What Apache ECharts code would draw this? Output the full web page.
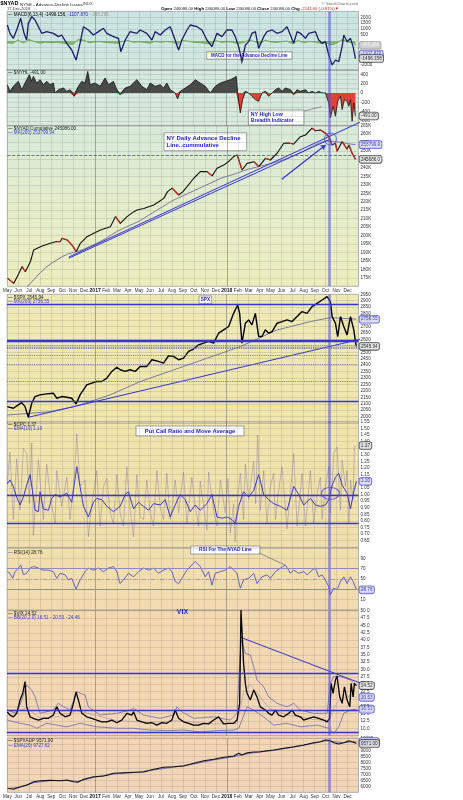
<!DOCTYPE html>
<html>
<head>
<meta charset="utf-8">
<script src="https://cdn.jsdelivr.net/npm/echarts@6/dist/echarts.min.js"></script>
<style>
  html, body { margin: 0; padding: 0; background: #fff; }
  #main { width: 463px; height: 800px; }
</style>
</head>
<body>
<div id="main"></div>
<script>
// x value = months since 1 May 2016
const monthLabels = ['May','Jun','Jul','Aug','Sep','Oct','Nov','Dec','2017','Feb','Mar','Apr','May','Jun','Jul','Aug','Sep','Oct','Nov','Dec','2018','Feb','Mar','Apr','May','Jun','Jul','Aug','Sep','Oct','Nov','Dec',''];
const yearTicks = [8, 20];
const markerMonth = 29.3;

// MACD(6,13,4) of $NYAD
const macd = [[0.03,1347],[0.27,641],[0.58,218],[0.88,924],[1.25,1912],[1.55,641],[1.79,76],[1.94,1489],[2.25,2054],[2.55,1771],[2.86,1206],[3.16,641],[3.62,783],[4.22,641],[4.68,359],[4.98,500],[5.44,-206],[5.89,-771],[6.29,-1618],[6.65,-206],[6.96,1206],[7.41,924],[7.87,500],[8.33,783],[8.78,1065],[9.09,641],[9.69,359],[10.15,218],[10.36,-912],[10.76,76],[11.21,783],[11.82,641],[12.12,924],[12.73,641],[13.19,76],[13.49,783],[13.95,500],[14.40,924],[14.86,1206],[15.31,76],[15.62,-771],[15.92,76],[16.38,924],[16.68,1347],[17.29,1206],[17.75,924],[18.20,76],[18.66,-489],[19.11,641],[19.57,359],[20.02,924],[20.48,924],[20.78,359],[21.09,-489],[21.39,-1760],[21.70,-347],[22.00,-65],[22.30,641],[22.61,783],[22.91,-630],[23.37,359],[23.67,783],[24.13,924],[24.58,641],[25.04,783],[25.49,1206],[25.80,500],[26.10,-206],[26.41,783],[26.71,641],[27.17,218],[27.47,641],[28.08,783],[28.38,76],[28.68,-206],[28.99,-65],[29.29,-1195],[29.60,-2042],[29.90,-1618],[30.20,-1760],[30.51,-489],[30.66,500],[30.96,-65],[31.27,218],[31.51,-489],[31.72,-1496]];
const macdHist = [[0,-150],[0.5,-220],[1,80],[1.5,-180],[2,120],[2.5,-60],[3,-200],[3.5,-100],[4,-150],[4.5,-120],[5,-180],[5.5,-250],[6,-300],[6.5,150],[7,60],[7.5,-150],[8,-80],[8.5,-60],[9,-130],[9.5,-160],[10,-200],[10.5,-50],[11,40],[11.5,-120],[12,-80],[12.5,-120],[13,-200],[13.5,-40],[14,-110],[14.5,-60],[15,-100],[15.5,-280],[16,40],[16.5,-20],[17,-120],[17.5,-150],[18,-200],[18.5,-260],[19,30],[19.5,-120],[20,-80],[20.5,-100],[21,-220],[21.5,-150],[22,80],[22.5,-40],[23,-250],[23.5,60],[24,-80],[24.5,-140],[25,-60],[25.5,-20],[26,-250],[26.5,40],[27,-140],[27.5,-60],[28,-90],[28.5,-200],[29,-160],[29.5,-350],[30,-200],[30.5,120],[31,-100],[31.5,-150],[31.72,-366]];
const macdTags = [-366.286, -1107.870, -1496.156];

// $NYHL
const nyhl = [[0.03,177],[0.27,35],[0.58,142],[1.03,249],[1.34,71],[1.64,213],[2.04,390],[2.25,249],[2.40,355],[2.70,213],[3.01,284],[3.31,177],[3.62,249],[3.92,177],[4.22,213],[4.38,0],[4.68,71],[5.14,107],[5.44,35],[5.74,71],[6.11,-71],[6.50,142],[6.81,249],[7.11,213],[7.35,462],[7.57,177],[8.02,213],[8.48,142],[8.93,320],[9.24,177],[9.69,249],[10.0,71],[10.30,-36],[10.76,107],[11.21,142],[11.82,284],[12.28,142],[12.73,71],[13.04,213],[13.49,142],[13.95,177],[14.25,107],[14.55,213],[14.86,71],[15.31,0],[15.53,-128],[15.77,35],[16.23,107],[16.68,177],[17.14,284],[17.59,213],[18.05,142],[18.51,0],[18.66,-36],[18.96,142],[19.42,213],[19.87,249],[20.33,284],[20.63,320],[20.87,355],[21.00,0],[21.24,-426],[21.45,-142],[21.70,35],[22.00,0],[22.30,-71],[22.61,-142],[22.91,-178],[23.21,0],[23.52,35],[23.82,-71],[24.13,0],[24.43,71],[24.73,107],[25.04,35],[25.34,107],[25.80,71],[26.10,-36],[26.41,71],[26.71,35],[27.17,71],[27.47,0],[27.77,35],[28.08,0],[28.38,35],[28.68,0],[28.99,0],[29.29,-213],[29.44,-533],[29.69,-284],[29.90,-497],[30.11,-178],[30.36,-71],[30.51,-355],[30.72,-142],[30.96,-178],[31.12,-284],[31.27,-142],[31.42,-604],[31.57,-213],[31.72,-491]];
const nyhlTags = [-491];

// $NYAD cumulative (thousands) and MA(200)
const adCum = [[0.03,174.7],[0.58,171.7],[1.0,177],[1.34,181.6],[1.64,178.6],[2.10,184.5],[2.40,191.5],[3.01,193.4],[3.5,194.5],[3.92,195.4],[4.5,196.5],[4.83,196.4],[4.98,198.4],[5.44,197.4],[5.89,194.4],[6.29,190.5],[6.65,195.4],[7.26,199.3],[7.87,201.3],[8.48,203.3],[9.39,205.2],[9.85,211.2],[10.30,207.2],[10.91,211.2],[11.5,214],[11.82,215.1],[12.43,216],[13.34,218.1],[13.8,220],[14.25,222],[14.6,226],[15.01,228],[15.62,224],[16.0,226],[16.38,229],[16.99,233.9],[17.59,237.8],[18.20,237.8],[18.66,235.3],[19.11,239.8],[19.72,241.7],[20.2,244],[20.63,246.7],[20.94,247.7],[21.39,238.8],[21.85,242.7],[22.46,243.7],[22.91,240.8],[23.52,245.7],[23.97,244.7],[24.58,248.7],[25.19,254.6],[25.6,254.8],[26.10,254.2],[26.71,258.5],[27.17,259.5],[27.77,263.5],[28.1,262],[28.53,262.5],[28.99,260.5],[29.29,258.5],[29.60,253.6],[29.90,254.6],[30.05,249.9],[30.51,255.6],[30.96,251.1],[31.12,253.6],[31.42,248.7],[31.72,245.1]];
const adMa = [[1.8,170],[2,171],[2.5,174.5],[3,178],[3.5,181],[4,183.5],[4.5,185.5],[5,187.5],[5.5,189],[6,190],[6.5,190.8],[7,192],[7.5,193.5],[8,195],[8.5,196.5],[9,198.5],[9.5,200.5],[10,202.5],[10.5,204],[11,205.5],[11.5,207],[12,208.5],[12.5,210.5],[13,212.5],[13.5,214.5],[14,216.5],[14.5,218.5],[15,220.5],[15.5,222],[16,223.5],[16.5,225],[17,226.5],[17.5,228],[18,229.5],[18.5,231],[19,232.5],[19.5,234],[20,235],[20.5,236],[21,237],[21.5,238.3],[22,239.3],[22.5,240.2],[23,241],[23.5,241.8],[24,242.6],[24.5,243.5],[25,244.5],[25.5,245.7],[26,247],[26.5,248.5],[27,250],[27.5,251.8],[28,253.5],[28.5,255],[29,256],[29.5,256],[30,255.5],[30.5,255],[31,254.4],[31.72,253.8]];
const adTrendA = [[5.6,187.3],[32.18,267.2]];
const adTrendB = [[5.6,186.6],[29.44,257.1]];
const adArrow = [[25.0,233.3],[29.0,253.6]];
const adCircle = [[29.44,257.1]];
const adLevel = 247.7;
const adTags = [253.79994, 245.086];

// $SPX and MA(200)
const spx = [[0.03,2078],[0.58,2065],[1.03,2091],[1.34,2109],[1.64,2078],[1.94,1995],[2.25,2104],[2.55,2156],[3.01,2169],[3.62,2177],[4.22,2182],[4.53,2143],[4.98,2156],[5.44,2151],[5.89,2143],[6.29,2099],[6.65,2169],[7.26,2247],[7.72,2260],[8.17,2273],[8.63,2273],[9.09,2299],[9.54,2351],[10.0,2384],[10.30,2364],[10.76,2351],[11.21,2364],[11.67,2351],[12.12,2390],[12.73,2390],[13.19,2442],[13.79,2429],[14.25,2416],[14.71,2473],[15.16,2468],[15.62,2442],[16.07,2455],[16.53,2507],[16.99,2525],[17.44,2558],[17.90,2571],[18.35,2584],[18.81,2571],[19.26,2648],[19.72,2674],[20.18,2700],[20.63,2802],[21.00,2867],[21.18,2802],[21.39,2571],[21.70,2725],[22.00,2751],[22.30,2713],[22.61,2802],[22.91,2622],[23.21,2622],[23.52,2674],[23.82,2648],[24.13,2661],[24.58,2725],[25.04,2738],[25.49,2751],[25.95,2738],[26.41,2777],[26.86,2816],[27.32,2802],[27.77,2854],[28.23,2880],[28.68,2906],[29.14,2932],[29.44,2893],[29.60,2777],[29.90,2725],[30.11,2622],[30.36,2777],[30.66,2700],[30.96,2635],[31.27,2777],[31.57,2674],[31.72,2584],[31.81,2546]];
const spxMa = [[0.03,2013],[2.10,2026],[3.92,2039],[6.35,2083],[9.39,2169],[12.12,2272],[15.16,2363],[18.20,2453],[21.24,2544],[24.58,2673],[27.62,2738],[29.44,2769],[31.81,2757]];
const spxTrend = [[1.94,1995],[34.46,2647]];
const spxSolidLevels = [2875, 2595, 2583, 2117];
const spxDottedLevels = [2556, 2542, 2530, 2476, 2404, 2274];
const spxTags = [2756.55, 2545.94];

// $CPC and EMA(10)
const cpc = [[0.03,1.08],[0.27,1.32],[0.58,0.81],[0.88,1.27],[1.19,0.88],[1.49,1.35],[1.79,1.31],[2.04,0.93],[2.25,1.39],[2.40,0.69],[2.86,1.26],[3.31,0.81],[3.62,1.23],[3.98,0.96],[4.38,0.78],[4.53,1.18],[4.98,0.91],[5.44,1.13],[5.74,0.81],[6.11,1.11],[6.35,1.46],[6.65,1.06],[7.11,1.11],[7.41,0.68],[7.81,0.98],[8.17,1.18],[8.48,0.76],[8.78,1.06],[9.09,1.12],[9.39,0.86],[9.69,0.78],[10.0,1.15],[10.30,0.86],[10.60,0.76],[10.91,1.21],[11.21,0.88],[11.52,0.68],[11.82,1.15],[12.12,0.83],[12.43,0.81],[12.73,1.11],[13.04,0.86],[13.34,0.76],[13.64,1.18],[13.95,0.91],[14.25,0.81],[14.55,1.16],[14.86,0.81],[15.16,0.98],[15.31,1.11],[15.62,0.86],[16.07,1.17],[16.38,0.78],[16.83,1.13],[17.14,0.91],[17.44,0.76],[17.59,1.10],[17.90,0.91],[18.20,0.73],[18.35,1.17],[18.81,0.88],[19.11,0.76],[19.42,1.11],[19.87,0.86],[20.12,1.12],[20.33,0.71],[20.63,0.93],[20.78,0.64],[21.00,0.98],[21.24,1.16],[21.54,0.81],[21.70,1.23],[22.00,0.96],[22.46,1.25],[22.64,0.93],[22.82,1.45],[23.06,0.88],[23.37,1.18],[23.67,0.78],[23.97,1.06],[24.28,1.16],[24.43,0.81],[24.73,1.03],[25.04,1.21],[25.49,0.74],[25.80,1.01],[26.10,1.31],[26.41,0.76],[26.86,1.16],[27.17,0.76],[27.62,1.18],[27.92,0.78],[28.23,1.01],[28.53,1.13],[28.68,0.81],[28.99,1.06],[29.29,1.21],[29.44,0.86],[29.75,1.31],[30.05,1.36],[30.36,0.88],[30.51,1.26],[30.81,1.06],[30.96,1.18],[31.12,0.78],[31.27,1.11],[31.51,0.96],[31.63,1.36],[31.81,1.37]];
const cpcEma = [[0.03,1.08],[0.27,1.11],[0.58,1.06],[0.88,0.98],[1.19,0.92],[1.49,0.98],[1.79,1.07],[2.10,1.15],[2.40,0.98],[2.55,0.88],[2.86,0.87],[3.01,1.02],[3.31,0.89],[3.77,0.88],[4.07,0.97],[4.38,1.00],[4.83,0.98],[5.44,1.01],[5.89,0.94],[6.35,1.21],[6.65,1.06],[6.96,0.91],[7.41,0.83],[7.87,0.94],[8.17,0.97],[8.63,0.96],[9.09,0.91],[9.69,0.87],[10.30,0.91],[10.76,1.00],[11.06,1.02],[11.52,0.89],[11.97,0.94],[12.43,0.91],[12.88,0.88],[13.34,0.93],[13.95,0.92],[14.40,0.96],[14.86,0.83],[15.31,0.92],[15.77,1.00],[16.23,0.96],[16.68,0.87],[17.14,0.92],[17.59,0.88],[18.20,0.93],[18.66,1.00],[19.11,0.83],[19.57,0.82],[20.02,0.83],[20.48,0.81],[20.78,0.78],[21.09,0.91],[21.54,1.02],[22.00,0.98],[22.46,1.03],[22.91,1.15],[23.37,1.00],[23.82,0.96],[24.28,0.93],[24.89,0.91],[25.49,0.88],[26.10,1.06],[26.56,1.00],[27.01,0.92],[27.62,0.97],[28.08,0.92],[28.53,0.91],[28.99,0.92],[29.29,0.96],[29.60,1.07],[29.90,1.13],[30.20,1.16],[30.51,1.07],[30.96,1.01],[31.27,0.89],[31.57,1.02],[31.81,1.10]];
const cpcLevels = [0.99, 0.775];
const cpcCircle = [[29.44,1.008]];
const cpcTags = [1.37, 1.10];

// RSI(14) of $NYAD
const rsi = [[0.03,64],[0.27,61],[0.52,51],[0.73,64],[1.03,71],[1.25,77],[1.49,58],[1.79,61],[2.10,71],[2.40,74],[2.86,71],[3.31,67],[3.77,67],[4.22,64],[4.53,51],[4.83,61],[5.29,58],[5.59,48],[5.89,51],[6.29,30],[6.65,48],[7.11,64],[7.41,71],[7.87,67],[8.33,71],[8.78,64],[9.24,71],[9.69,74],[10.0,64],[10.30,41],[10.60,48],[11.06,61],[11.52,54],[11.97,64],[12.43,71],[12.88,67],[13.34,71],[13.79,61],[14.25,67],[14.71,71],[15.01,64],[15.31,45],[15.62,41],[15.92,51],[16.38,67],[16.83,77],[17.14,84],[17.59,74],[18.05,54],[18.35,64],[18.66,38],[18.96,61],[19.42,64],[19.87,67],[20.33,74],[20.63,67],[20.94,61],[21.24,32],[21.54,48],[22.00,51],[22.46,61],[22.76,41],[23.21,54],[23.67,58],[23.97,51],[24.43,64],[24.89,71],[25.34,77],[25.80,61],[26.10,67],[26.56,61],[27.01,64],[27.32,58],[27.77,67],[28.08,71],[28.38,54],[28.68,58],[28.99,48],[29.29,35],[29.44,19],[29.75,32],[30.05,29],[30.36,45],[30.66,54],[30.96,41],[31.27,54],[31.51,45],[31.81,28.76]];
const rsiTags = [28.76];

// $VIX and Bollinger Bands(20,2)
const vix = [[0.03,15.6],[0.27,14.5],[0.58,13.9],[0.88,15.1],[1.19,19.6],[1.43,21.9],[1.64,25.9],[1.79,17.3],[2.10,13.9],[2.40,13.4],[2.86,12.8],[3.31,13.4],[3.77,13.4],[4.22,14.5],[4.53,17.3],[4.83,15.1],[5.29,13.9],[5.74,14.5],[6.05,18.5],[6.29,22.4],[6.50,19.6],[6.81,15.1],[7.26,13.9],[7.72,13.4],[8.17,12.8],[8.63,12.2],[9.09,12.2],[9.54,12.8],[10.0,11.9],[10.45,12.8],[10.91,15.1],[11.36,14.5],[11.52,15.6],[11.82,12.8],[12.28,12.2],[12.73,11.7],[13.19,11.9],[13.64,11.1],[14.10,11.9],[14.55,11.7],[15.01,12.8],[15.31,16.2],[15.62,13.4],[16.07,12.2],[16.53,11.7],[16.99,11.1],[17.44,11.1],[17.90,11.7],[18.35,11.5],[18.81,12.8],[19.26,13.9],[19.72,11.5],[20.18,11.7],[20.63,11.7],[20.94,12.8],[21.18,18.5],[21.30,50.2],[21.42,41.2],[21.54,32.1],[21.70,25.3],[21.85,21.9],[22.15,19.6],[22.46,23.0],[22.76,20.7],[23.06,17.3],[23.52,16.2],[23.82,15.1],[24.13,14.5],[24.43,16.2],[24.73,14.5],[25.19,13.9],[25.65,15.1],[25.95,16.2],[26.25,14.5],[26.71,13.9],[27.01,12.8],[27.47,13.4],[27.92,13.9],[28.38,13.4],[28.84,12.8],[29.14,12.2],[29.38,13.4],[29.50,25.3],[29.69,21.9],[29.90,26.4],[30.05,27.8],[30.29,20.7],[30.51,18.5],[30.72,24.1],[30.96,19.6],[31.21,17.3],[31.33,25.3],[31.51,20.7],[31.63,25.3],[31.81,24.52]];
const bbUpper = [[0.03,16.2],[0.88,15.1],[1.34,19.6],[1.79,24.7],[2.25,23.0],[2.55,20.7],[3.01,15.1],[4.22,16.2],[4.68,18.5],[5.14,17.3],[5.74,16.2],[6.35,22.4],[7.11,21.3],[7.41,17.3],[8.48,14.5],[10.0,15.1],[11.21,16.2],[11.52,16.8],[12.43,14.5],[13.95,13.4],[15.16,14.5],[15.47,17.3],[15.92,15.6],[16.99,13.4],[18.81,13.9],[20.33,12.8],[20.94,15.1],[21.30,40.0],[21.70,35.5],[22.15,34.9],[22.46,31.0],[22.76,26.4],[23.37,24.1],[23.82,20.7],[24.58,18.5],[25.49,17.3],[26.10,18.5],[26.71,16.2],[27.92,15.1],[29.14,15.1],[29.44,25.3],[29.75,27.6],[30.36,27.6],[31.27,26.4],[31.81,24.46]];
const bbMid = [[0.03,14.5],[1.79,17],[3.01,13.5],[4.68,14],[6.35,16],[7.41,15],[10.0,12.6],[13.04,12],[15.47,12.5],[18.81,11.5],[20.94,11.6],[21.54,22],[22.15,25],[22.76,22],[23.82,17],[25.49,14.5],[27.92,13],[29.29,12.5],[29.75,17],[30.36,20],[31.27,21],[31.81,20.53]];
const bbLower = [[0.03,12.8],[1.19,11.7],[2.10,11.1],[2.70,10.0],[3.62,11.7],[5.44,10.5],[6.65,11.7],[8.17,10.5],[10.0,10.0],[11.52,10.0],[13.04,9.4],[14.55,9.2],[16.07,9.4],[17.59,8.8],[19.11,9.2],[20.63,9.4],[21.09,10.0],[21.39,12.8],[21.85,17.3],[22.46,16.2],[23.37,13.9],[24.28,11.1],[25.49,11.7],[26.71,10.5],[28.23,11.1],[29.29,10.0],[29.75,8.3],[30.20,10.5],[30.66,15.1],[31.27,16.2],[31.81,16.51]];
const vixTrend = [[21.3,40.9],[33.2,23.9]];
const vixLevels = [28.7, 16.0, 8.6];
const vixTags = [24.52, 20.53, 16.51];

// $SPXADP and EMA(20)
const spxadp = [[0.03,5833],[0.58,5752],[1.19,5968],[1.79,6110],[2.40,6385],[3.01,6468],[3.92,6501],[4.83,6468],[5.44,6526],[6.05,6385],[6.41,6335],[6.96,6585],[7.87,6801],[8.78,6860],[9.69,7084],[10.60,7135],[11.52,7168],[12.43,7193],[13.34,7418],[14.25,7584],[15.16,7634],[16.07,7692],[16.99,7918],[17.90,8134],[18.81,8251],[19.72,8418],[20.63,8526],[21.09,8750],[21.39,8609],[21.85,8801],[22.46,8859],[23.06,8884],[23.67,8967],[24.28,9025],[25.19,9167],[26.10,9301],[27.01,9442],[27.92,9634],[28.53,9717],[28.99,9858],[29.44,9800],[29.75,9634],[30.20,9525],[30.66,9634],[31.12,9800],[31.42,9717],[31.81,9571]];
const spxadpEma = [[0.03,5800],[1.19,5930],[2.40,6300],[3.92,6470],[5.44,6480],[6.41,6400],[7.87,6740],[9.69,7020],[11.52,7140],[13.34,7360],[15.16,7600],[16.99,7860],[18.81,8200],[20.63,8470],[21.39,8620],[22.46,8800],[24.28,8990],[26.10,9260],[27.92,9580],[28.99,9800],[29.75,9720],[30.66,9640],[31.42,9700],[31.81,9727.62]];
const spxadpTags = [9727.62, 9571.00];

// ---------- layout ----------
const LEFT = 7, PLOT_RIGHT = 358.5, FONT = '"Liberation Sans", Arial, sans-serif';
const panels = [
  { top: 11.4,  height: 59,     min: -2500, max: 2500, interval: 500,  fmt: v => (v > 0 || v === -2000) ? v : '' },
  { top: 69.6,  height: 56.1,   min: -700,  max: 500,  interval: 100,  fmt: v => (v % 200 === 0) ? v : '' },
  { top: 125.7, height: 160.55, min: 170,   max: 265,  interval: 5,    fmt: v => v + 'K', dates: true },
  { top: 294.3, height: 128.8,  min: 1950,  max: 2950, interval: 50,   fmt: v => v },
  { top: 421.7, height: 125.6,  min: 0.6,   max: 1.55, interval: 0.05, fmt: v => v.toFixed(2) },
  { top: 548.0, height: 61.8,   min: -10,   max: 110,  interval: 20,   fmt: v => v },
  { top: 610.7, height: 124.95, min: 7.5,   max: 50,   interval: 2.5,  fmt: v => v.toFixed(1) },
  { top: 738.3, height: 54,     min: 5500,  max: 10000, interval: 500, fmt: v => v, dates: true }
];
const showMax = [false, false, true, true, true, false, true, true];

const gridLine = 'rgba(100,100,100,0.17)';
const blue = '#3434d8';

const grid = panels.map(p => ({
  left: LEFT, width: PLOT_RIGHT - LEFT, top: p.top, height: p.height,
  show: true, borderColor: '#a5a5a5', borderWidth: 0.6, backgroundColor: 'transparent'
}));

function monthFmt(v) {
  const s = monthLabels[Math.round(v)] || '';
  return /^\d{4}$/.test(s) ? '{y|' + s + '}' : s;
}

const xAxis = panels.map((p, i) => ({
  gridIndex: i, type: 'value', min: 0, max: 32, interval: 1,
  axisLine: { show: false }, axisTick: { show: false },
  axisLabel: {
    show: !!p.dates, fontSize: 4.6, color: '#333', margin: 1.5, fontFamily: FONT,
    formatter: monthFmt, showMaxLabel: false,
    rich: { y: { fontSize: 5, fontWeight: 'bold', color: '#111', fontFamily: FONT } }
  },
  splitLine: { show: true, lineStyle: { color: gridLine, width: 1 } }
}));

const yAxis = panels.map((p, i) => ({
  gridIndex: i, type: 'value', position: 'right', min: p.min, max: p.max, interval: p.interval,
  axisLine: { show: false }, axisTick: { show: false },
  axisLabel: { fontSize: 4.6, color: '#333', margin: 2, fontFamily: FONT, formatter: p.fmt,
               showMinLabel: false, showMaxLabel: showMax[i] },
  splitLine: { show: true, lineStyle: { color: gridLine, width: 1 } }
}));

function L(g, data, color, width, extra) {
  return Object.assign({
    type: 'line', xAxisIndex: g, yAxisIndex: g, data, symbol: 'none', silent: true,
    lineStyle: { color, width }, z: 3
  }, extra || {});
}

function marks(hlines) {
  const data = [
    { xAxis: yearTicks[0], lineStyle: { color: 'rgba(90,90,90,0.35)', width: 1, type: 'solid' } },
    { xAxis: yearTicks[1], lineStyle: { color: 'rgba(90,90,90,0.35)', width: 1, type: 'solid' } },
    { xAxis: markerMonth, lineStyle: { color: 'rgba(80,80,215,0.6)', width: 2.5, type: 'solid' } }
  ].concat(hlines || []);
  return { silent: true, symbol: ['none', 'none'], label: { show: false }, animation: false, data };
}
const hl = (v, color, width, type) => ({ yAxis: v, lineStyle: { color, width, type } });

function tag(g, value, text, bg, border, color) {
  return {
    type: 'scatter', xAxisIndex: g, yAxisIndex: g, data: [[32, value]], symbolSize: 0,
    silent: true, clip: false, z: 20,
    label: { show: true, position: 'right', distance: 1, formatter: text, fontSize: 4.6, fontFamily: FONT,
             color, backgroundColor: bg, borderColor: border, borderWidth: 0.8, borderRadius: 2, padding: [1, 1.5] }
  };
}
const tagDark = (g, v, t) => tag(g, v, t, '#e4e4e4', '#333', '#000');
const tagBlue = (g, v, t) => tag(g, v, t, '#d4d8f4', '#4a4ad0', '#2020a0');

function downSegments(pts) {
  const out = [];
  for (let i = 1; i < pts.length; i++) {
    if (pts[i][1] < pts[i - 1][1]) out.push(pts[i - 1], pts[i], [pts[i][0], '-']);
  }
  return out;
}

const series = [];
// 0 MACD
series.push(L(0, macdHist, '#5f9e44', 0.8, { areaStyle: { color: '#7cb060', opacity: 0.85 } }));
series.push(L(0, macd, '#1c1c6a', 1.3, { markLine: marks() }));
series.push(tag(0, macdTags[0], macdTags[0].toFixed(3), '#c4c4c4', '#9c9c9c', '#fff'));
series.push(tagBlue(0, macdTags[1], macdTags[1].toFixed(3)));
series.push(tagDark(0, macdTags[2], macdTags[2].toFixed(3)));

// 1 NYHL
series.push(L(1, nyhl.map(p => [p[0], Math.max(p[1], 0)]), 'transparent', 0, { areaStyle: { color: '#3a3a3a', opacity: 0.9 } }));
series.push(L(1, nyhl.map(p => [p[0], Math.min(p[1], 0)]), 'transparent', 0, { areaStyle: { color: '#e0382e', opacity: 0.95 } }));
series.push(L(1, nyhl, '#111', 0.8, { markLine: marks() }));
series.push(tagDark(1, nyhlTags[0], nyhlTags[0].toFixed(2)));

// 2 NYAD cumulative
series.push(L(2, adMa, '#7878a4', 1));
series.push(L(2, adTrendA, blue, 1, { clip: false }));
series.push(L(2, adTrendB, blue, 1));
series.push(L(2, adCum, '#111', 1.1, { markLine: marks([hl(adLevel, '#4a4ad8', 0.8, 'dashed')]) }));
series.push(L(2, downSegments(adCum), '#d8261c', 1.1, { connectNulls: false, z: 4 }));
series.push({
  type: 'line', xAxisIndex: 2, yAxisIndex: 2, data: [], silent: true,
  markLine: { silent: true, symbol: ['none', 'arrow'], symbolSize: 5, label: { show: false }, animation: false,
              lineStyle: { color: blue, width: 1.2, type: 'solid' },
              data: [[{ coord: adArrow[0] }, { coord: adArrow[1] }]] }
});
series.push({ type: 'scatter', xAxisIndex: 2, yAxisIndex: 2, data: adCircle, symbol: 'circle', symbolSize: [12, 12],
  silent: true, z: 6, itemStyle: { color: 'rgba(0,0,0,0)', borderColor: '#4a4ad8', borderWidth: 1 } });
series.push(tagBlue(2, adTags[0], (adTags[0] * 1000).toFixed(1)));
series.push(tagDark(2, adTags[1], (adTags[1] * 1000).toFixed(1)));

// 3 SPX
series.push(L(3, spxMa, '#7a7aa0', 1));
series.push(L(3, spxTrend, blue, 1, { clip: false }));
series.push(L(3, spx, '#000', 1.4, { markLine: marks(
  spxSolidLevels.map(v => hl(v, blue, 1.3, 'solid')).concat(spxDottedLevels.map(v => hl(v, '#6a6ab8', 0.9, 'dotted')))
) }));
series.push(tagBlue(3, spxTags[0], spxTags[0].toFixed(2)));
series.push(tagDark(3, spxTags[1], spxTags[1].toFixed(2)));

// 4 CPC
series.push(L(4, cpc, 'rgba(130,118,160,0.55)', 0.8));
series.push(L(4, cpcEma, '#3a3acc', 1, { markLine: marks(cpcLevels.map(v => hl(v, blue, 1.3, 'solid'))) }));
series.push({ type: 'scatter', xAxisIndex: 4, yAxisIndex: 4, data: cpcCircle, symbol: 'circle', symbolSize: [18, 12],
  silent: true, z: 6, itemStyle: { color: 'rgba(0,0,0,0)', borderColor: '#4a4ad8', borderWidth: 1 } });
series.push(tagDark(4, cpcTags[0], cpcTags[0].toFixed(2)));
series.push(tagBlue(4, cpcTags[1], cpcTags[1].toFixed(2)));

// 5 RSI
series.push(L(5, rsi, '#5454d4', 0.9, { markLine: marks([
  hl(70, '#8c8cbc', 1, 'solid'), hl(50, '#9a9a9a', 0.8, [4, 2, 1, 2]), hl(30, '#8c8cbc', 1, 'solid')
]) }));
series.push(tagBlue(5, rsiTags[0], rsiTags[0].toFixed(2)));

// 6 VIX
series.push(L(6, bbUpper, '#6a6ab4', 0.8));
series.push(L(6, bbMid, 'rgba(106,106,180,0.6)', 0.6));
series.push(L(6, bbLower, '#6a6ab4', 0.8));
series.push(L(6, vixTrend, blue, 1, { clip: false }));
series.push(L(6, vix, '#000', 1.3, { markLine: marks(vixLevels.map(v => hl(v, blue, 1.3, 'solid'))) }));
series.push(tagDark(6, vixTags[0], vixTags[0].toFixed(2)));
series.push(tagBlue(6, vixTags[1], vixTags[1].toFixed(2)));
series.push(tagBlue(6, vixTags[2], vixTags[2].toFixed(2)));

// 7 SPXADP
series.push(L(7, spxadpEma, '#6a6ab8', 1));
series.push(L(7, spxadp, '#111', 1.1, { markLine: marks() }));
series.push(tagBlue(7, spxadpTags[0], spxadpTags[0].toFixed(2)));
series.push(tagDark(7, spxadpTags[1], spxadpTags[1].toFixed(2)));

// ---------- texts ----------
function txt(x, y, text, size, fill, weight, align) {
  return { type: 'text', x, y, z: 30, silent: true,
    style: { text, fill, font: (weight || 'normal') + ' ' + size + 'px ' + FONT, verticalAlign: 'middle', align: align || 'left' } };
}
function legend(y, parts) {
  const rich = {};
  let text = '';
  parts.forEach((p, k) => { rich['p' + k] = { fill: p[1], font: '4.6px ' + FONT }; text += '{p' + k + '|' + p[0] + '}'; });
  return { type: 'text', x: 8, y, z: 30, silent: true, style: { text, rich, verticalAlign: 'middle' } };
}
function box(x, y, w, h, text, size, align) {
  return { type: 'group', x, y, z: 40, silent: true, children: [
    { type: 'rect', shape: { x: 0, y: 0, width: w, height: h }, style: { fill: '#fff', stroke: '#8c8c8c', lineWidth: 0.8 } },
    { type: 'text', x: align === 'left' ? 2.5 : w / 2, y: h / 2, style: { text, fill: '#2424d8',
      font: 'bold ' + size + 'px ' + FONT, verticalAlign: 'middle', align: align || 'center', lineHeight: size + 1.2 } }
  ] };
}

const graphic = [
  { type: 'rect', z: -10, silent: true, shape: { x: LEFT, y: 11.4, width: PLOT_RIGHT - LEFT, height: 286.25 - 11.4 },
    style: { fill: { type: 'linear', x: 0, y: 0, x2: 0, y2: 1, colorStops: [
      { offset: 0, color: '#c9e4e3' }, { offset: 0.21, color: '#d3e8e0' }, { offset: 0.42, color: '#d8eada' },
      { offset: 0.7, color: '#e4edcc' }, { offset: 1, color: '#eeedbd' } ] } } },
  { type: 'rect', z: -10, silent: true, shape: { x: LEFT, y: 294.3, width: PLOT_RIGHT - LEFT, height: 792.3 - 294.3 },
    style: { fill: { type: 'linear', x: 0, y: 0, x2: 0, y2: 1, colorStops: [
      { offset: 0, color: '#eeeab5' }, { offset: 0.25, color: '#f0e5ab' }, { offset: 0.51, color: '#f1dfad' },
      { offset: 0.63, color: '#f3dab0' }, { offset: 0.88, color: '#f3d6b4' }, { offset: 1, color: '#f2d4b8' } ] } } },

  txt(0.5, 4, '$NYAD', 5.4, '#000', 'bold'),
  txt(20, 4.3, 'NYSE - Advance-Decline Issues', 4.4, '#222'),
  txt(83, 4.3, 'INDX', 4, '#444'),
  txt(7, 9.2, '17-Dec-2018', 4, '#333'),
  txt(358, 3.6, '\u00a9 StockCharts.com', 4.2, '#666', 'normal', 'right'),
  { type: 'text', x: 161, y: 9.2, z: 30, silent: true, style: {
    text: '{b|Open} 246086.00 {b|High} 246086.00 {b|Low} 246086.00 {b|Close} 246086.00 {b|Chg} {r|-2241.00 (-0.91%)\u25BC}',
    font: '4.2px ' + FONT, fill: '#222', verticalAlign: 'middle',
    rich: { b: { font: 'bold 4.4px ' + FONT, fill: '#000' }, r: { font: '4.2px ' + FONT, fill: '#c02020' } } } },

  legend(14.5, [['\u2014 ', '#000'], ['MACD(6,13,4) -1496.156, ', '#000'], ['-1107.870', '#2a2ad0'], [', -366.286', '#9a9a9a']]),
  legend(72.5, [['\u2014 ', '#000'], ['$NYHL -491.00', '#222']]),
  legend(128.5, [['\u2014 ', '#000'], ['$NYAD Cumulative 245086.00', '#222']]),
  legend(132.8, [['\u2014 ', '#3a3ad0'], ['MA(200) 253799.94', '#3a3ad0']]),
  legend(297.3, [['\u2014 ', '#000'], ['$SPX 2545.94', '#222']]),
  legend(301.5, [['\u2014 ', '#3a3ad0'], ['MA(200) 2756.55', '#3a3ad0']]),
  legend(424.6, [['\u2014 ', '#000'], ['$CPC 1.37', '#222']]),
  legend(428.8, [['\u2014 ', '#3a3ad0'], ['EMA(10) 1.10', '#3a3ad0']]),
  legend(553.2, [['\u2014 ', '#3a3ad0'], ['RSI(14) 28.76', '#222']]),
  legend(613.5, [['\u2014 ', '#000'], ['$VIX 24.52', '#222']]),
  legend(617.6, [['\u2014 ', '#3a3ad0'], ['BB(20,2.0) 16.51 - 20.53 - 24.46', '#3a3ad0']]),
  legend(741.2, [['\u2014 ', '#000'], ['$SPXADP 9571.00', '#222']]),
  legend(745.3, [['\u2014 ', '#3a3ad0'], ['EMA(20) 9727.62', '#3a3ad0']]),

  box(206.7, 51.7, 85.3, 7.6, 'MACD for the Advance Decline Line', 4.5),
  { type: 'polyline', z: 39, silent: true, shape: { points: [[241, 59.3], [241.7, 63.5], [243, 59.3]] }, style: { stroke: '#555', fill: null, lineWidth: 0.8 } },
  { type: 'line', z: 39, silent: true, shape: { x1: 304, y1: 111, x2: 321.7, y2: 106.7 }, style: { stroke: '#8c8c8c', lineWidth: 1 } },
  box(248.3, 110, 55.7, 15, 'NY High Low\nBreadth Indicator', 5.2, 'left'),
  box(164, 132.7, 82.7, 18, 'NY Daily Advance Decline\nLine..cummulative', 6, 'left'),
  box(199, 296, 12.7, 7.3, 'SPX', 4.6),
  box(136, 426, 108, 10, 'Put Call Ratio and Move Average', 5.8),
  { type: 'line', z: 39, silent: true, shape: { x1: 259, y1: 553, x2: 285, y2: 565 }, style: { stroke: '#8c8c8c', lineWidth: 1 } },
  box(190.7, 546, 69.3, 8, 'RSI For The NYAD Line', 4.8),
  txt(182.5, 611.8, 'VIX', 7, '#2424d8', 'bold', 'center')
];

const chart = echarts.init(document.getElementById('main'), null, { renderer: 'canvas' });
chart.setOption({
  animation: false,
  backgroundColor: '#fff',
  grid, xAxis, yAxis, series, graphic
});
window.addEventListener('resize', () => chart.resize());
</script>
</body>
</html>
